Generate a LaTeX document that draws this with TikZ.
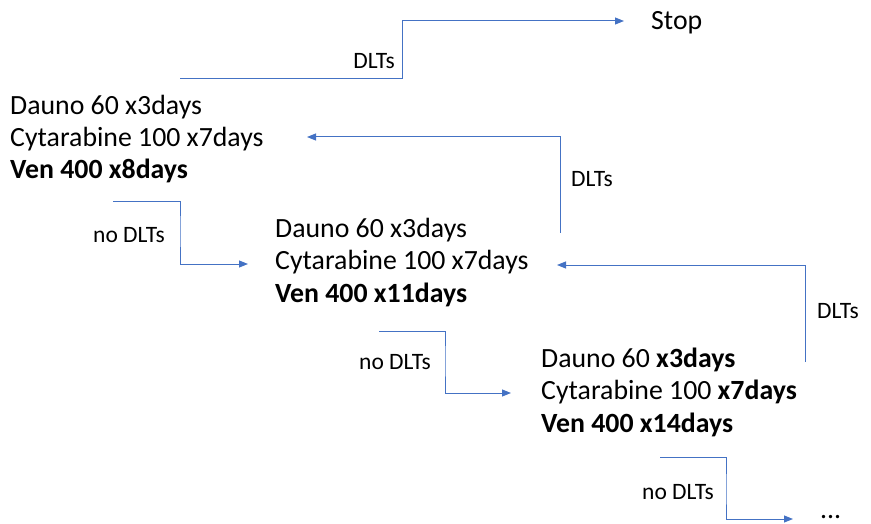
\documentclass[tikz,border=0pt]{standalone}
\usepackage{fontspec}
\setmainfont{Carlito}
\usetikzlibrary{arrows.meta}
\definecolor{linkblue}{HTML}{4472C4}
\tikzset{
  dose/.style={anchor=base west, inner sep=0pt, align=left,
    font=\fontsize{27.8}{32.3}\selectfont},
  lbl/.style={inner sep=0pt, font=\fontsize{23.5}{28}\selectfont},
  conn/.style={draw=linkblue, line width=1pt,
    -{Triangle[length=9pt,width=7pt]}}
}
\begin{document}
\begin{tikzpicture}[x=1pt,y=-1pt]
\useasboundingbox (0,0) rectangle (871,524);

% regimen levels (anchored at the baseline of the last line)
\node[dose] (lvl1) at (10,179) {Dauno 60 x3days\\Cytarabine 100 x7days\\\textbf{Ven 400 x8days}};
\node[dose] (lvl2) at (275,302) {Dauno 60 x3days\\Cytarabine 100 x7days\\\textbf{Ven 400 x11days}};
\node[dose] (lvl3) at (541,432) {Dauno 60 \textbf{x3days}\\Cytarabine 100 \textbf{x7days}\\\textbf{Ven 400 x14days}};
\node[dose] (stop) at (651,30) {Stop};
\node[dose] (more) at (820,518) {...};

% connector ends
\coordinate (s0) at (180,79);   \coordinate (e0) at (624,21);
\coordinate (s1) at (113,202);  \coordinate (e1) at (248,264);
\coordinate (s2) at (560,233);  \coordinate (e2) at (307,137);
\coordinate (s3) at (379,331);  \coordinate (e3) at (511,393);
\coordinate (s4) at (805,362);  \coordinate (e4) at (557,265);
\coordinate (s5) at (660,457);  \coordinate (e5) at (793,519);

% escalation steps and stopping rule
\draw[conn] (s0) -- (402,79) |- (e0);
\draw[conn] (s1) -| (180,230) |- (e1);
\draw[conn] (s2) |- (e2);
\draw[conn] (s3) -| (445,360) |- (e3);
\draw[conn] (s4) |- (e4);
\draw[conn] (s5) -| (726,490) |- (e5);

% branch labels
\node[lbl, anchor=base east] (d0) at (395,69) {DLTs};
\node[lbl, anchor=base west] (n1) at (93,243) {no DLTs};
\node[lbl, anchor=base west] (d2) at (571,187) {DLTs};
\node[lbl, anchor=base west] (n3) at (359,369) {no DLTs};
\node[lbl, anchor=base west] (d4) at (817,318) {DLTs};
\node[lbl, anchor=base west] (n5) at (642,499) {no DLTs};
\end{tikzpicture}
\end{document}
